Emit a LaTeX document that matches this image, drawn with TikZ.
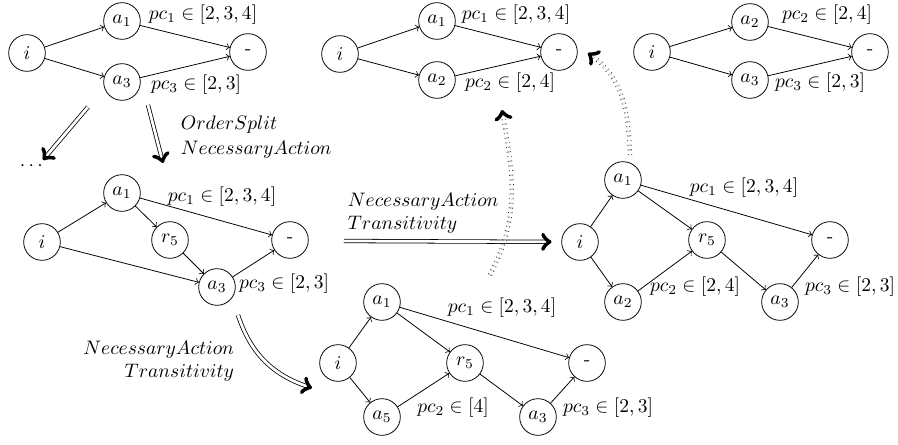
\documentclass[tikz,border=0pt]{standalone}
\usepackage{amsmath}
\usepackage{tikz}
\usetikzlibrary{arrows,positioning}
\tikzstyle{place}  = [circle,
                      draw,
                      minimum size=0.66cm,
                      inner sep=1pt]
\tikzstyle{rule}   = [draw, double, double distance=1.4pt, ->]
\tikzstyle{undo}   = [draw, double, double distance=1.4pt, dotted, ->]
\tikzstyle{pc}     = [inner sep=1pt]

\begin{document}
\begin{tikzpicture}[%
  x=0.018cm,
  y=-0.018cm,
  thin
  ]
  \useasboundingbox (0,0) rectangle (898,445);

  % Top left:
  \node (g1-i) [place] at (27,53) {$i$};
  \node (g1-a1) [place] at (122,21) {$a_1$};
  \node (g1-a3) [place] at (122,82) {$a_3$};
  \node (g1-end) [place] at (248,52) {-};
  \node (g1-pc1) [pc] at (203,15) {$pc_1 \in [2,3,4]$};
  \node (g1-pc3) [pc] at (196,85) {$pc_3 \in [2,3]$};

  % Top middle:
  \node (g2-i) [place] at (340,54) {$i$};
  \node (g2-a1) [place] at (437,21) {$a_1$};
  \node (g2-a2) [place] at (437,80) {$a_2$};
  \node (g2-end) [place] at (559,52) {-};
  \node (g2-pc1) [pc] at (516,15) {$pc_1 \in [2,3,4]$};
  \node (g2-pc2) [pc] at (510,83) {$pc_2 \in [2,4]$};

  % Top right:
  \node (g3-i) [place] at (652,52) {$i$};
  \node (g3-a2) [place] at (750,22) {$a_2$};
  \node (g3-a3) [place] at (750,80) {$a_3$};
  \node (g3-end) [place] at (870,52) {-};
  \node (g3-pc2) [pc] at (827,15) {$pc_2 \in [2,4]$};
  \node (g3-pc3) [pc] at (820,83) {$pc_3 \in [2,3]$};

  % Middle left:
  \node (g4-i) [place] at (42,242) {$i$};
  \node (g4-a1) [place] at (122,193) {$a_1$};
  \node (g4-r5) [place] at (170,240) {$r_5$};
  \node (g4-a3) [place] at (217,287) {$a_3$};
  \node (g4-end) [place] at (290,240) {-};
  \node (g4-pc1) [pc] at (222,197) {$pc_1 \in [2,3,4]$};
  \node (g4-pc3) [pc] at (284,284) {$pc_3 \in [2,3]$};

  % Middle right:
  \node (g5-i) [place] at (580,242) {$i$};
  \node (g5-a1) [place] at (623,180) {$a_1$};
  \node (g5-a2) [place] at (623,302) {$a_2$};
  \node (g5-r5) [place] at (707,240) {$r_5$};
  \node (g5-a3) [place] at (780,302) {$a_3$};
  \node (g5-end) [place] at (830,240) {-};
  \node (g5-pc1) [pc] at (744,188) {$pc_1 \in [2,3,4]$};
  \node (g5-pc2) [pc] at (695,287) {$pc_2 \in [2,4]$};
  \node (g5-pc3) [pc] at (850,287) {$pc_3 \in [2,3]$};

  % Bottom:
  \node (g6-i) [place] at (338,363) {$i$};
  \node (g6-a1) [place] at (382,302) {$a_1$};
  \node (g6-a5) [place] at (382,417) {$a_5$};
  \node (g6-r5) [place] at (465,363) {$r_5$};
  \node (g6-a3) [place] at (538,417) {$a_3$};
  \node (g6-end) [place] at (587,363) {-};
  \node (g6-pc1) [pc] at (502,308) {$pc_1 \in [2,3,4]$};
  \node (g6-pc2) [pc] at (453,408) {$pc_2 \in [4]$};
  \node (g6-pc3) [pc] at (608,408) {$pc_3 \in [2,3]$};

  % Rule labels:
  \node (dots) at (33,166) {$\cdots$};
  \node (r-split) [anchor=west, align=left] at (174,137) {$OrderSplit$\\[1pt]$NecessaryAction$};
  \node (r-right) [anchor=west, align=left] at (341,213) {$NecessaryAction$\\$Transitivity$};
  \node (r-down) [anchor=east, align=right] at (241,361) {$NecessaryAction$\\$Transitivity$};

  % Free ends:
  \coordinate (d1-from) at (88,107);
  \coordinate (d1-to) at (43,160);
  \coordinate (d2-from) at (148,105);
  \coordinate (d2-to) at (163,163);
  \coordinate (d3-from) at (344,241);
  \coordinate (d4-from) at (238,315);
  \coordinate (d4-to) at (312,388);
  \coordinate (u1-from) at (490,275);
  \coordinate (u1-to) at (502,110);
  \coordinate (u2-from) at (630,155);
  \coordinate (u2-to) at (588,53);

  % Connectors:
  \draw[->] (g1-i) -- (g1-a1);
  \draw[->] (g1-i) -- (g1-a3);
  \draw[->] (g1-a1) -- (g1-end);
  \draw[->] (g1-a3) -- (g1-end);

  \draw[->] (g2-i) -- (g2-a1);
  \draw[->] (g2-i) -- (g2-a2);
  \draw[->] (g2-a1) -- (g2-end);
  \draw[->] (g2-a2) -- (g2-end);

  \draw[->] (g3-i) -- (g3-a2);
  \draw[->] (g3-i) -- (g3-a3);
  \draw[->] (g3-a2) -- (g3-end);
  \draw[->] (g3-a3) -- (g3-end);

  \draw[->] (g4-i) -- (g4-a1);
  \draw[->] (g4-i) -- (g4-a3);
  \draw[->] (g4-a1) -- (g4-r5);
  \draw[->] (g4-r5) -- (g4-a3);
  \draw[->] (g4-a1) -- (g4-end);
  \draw[->] (g4-a3) -- (g4-end);

  \draw[->] (g5-i) -- (g5-a1);
  \draw[->] (g5-i) -- (g5-a2);
  \draw[->] (g5-a1) -- (g5-r5);
  \draw[->] (g5-a2) -- (g5-r5);
  \draw[->] (g5-a1) -- (g5-end);
  \draw[->] (g5-r5) -- (g5-a3);
  \draw[->] (g5-a3) -- (g5-end);

  \draw[->] (g6-i) -- (g6-a1);
  \draw[->] (g6-i) -- (g6-a5);
  \draw[->] (g6-a1) -- (g6-r5);
  \draw[->] (g6-a5) -- (g6-r5);
  \draw[->] (g6-a1) -- (g6-end);
  \draw[->] (g6-r5) -- (g6-a3);
  \draw[->] (g6-a3) -- (g6-end);

  % Rules:
  \draw[rule] (d1-from) -- (d1-to);
  \draw[rule] (d2-from) -- (d2-to);
  \draw[rule, shorten >=5pt] (d3-from) -- (g5-i);
  \draw[rule] (d4-from) to[out=-72, in=162] (d4-to);
  \draw[undo] (u1-from) to[out=62, in=-80] (u1-to);
  \draw[undo] (u2-from) to[out=92, in=-35] (u2-to);
\end{tikzpicture}
\end{document}
